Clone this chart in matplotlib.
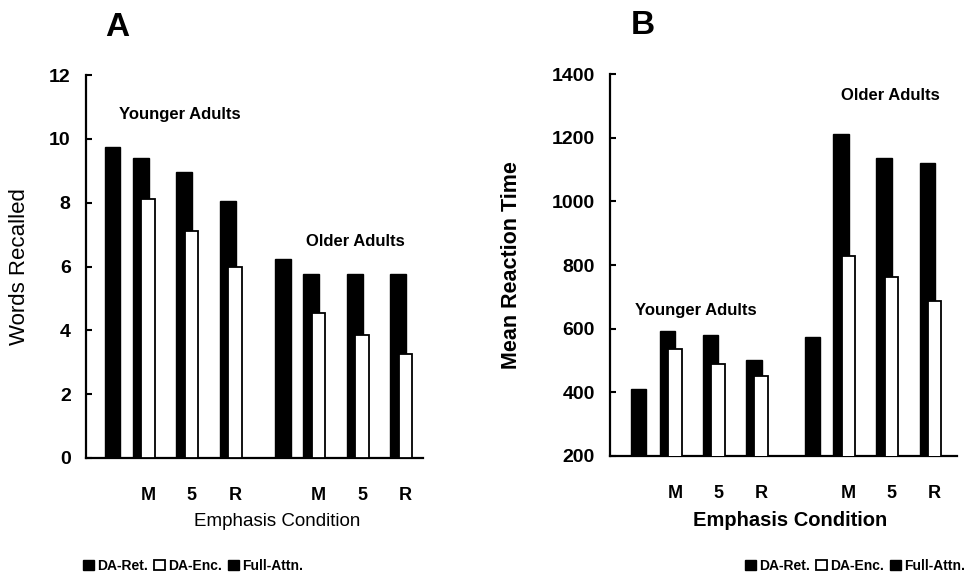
import numpy as np
import matplotlib
matplotlib.use('Agg')
import matplotlib.pyplot as plt

plt.rcParams['font.family'] = ['Liberation Sans', 'DejaVu Sans']

conditions = ['M', '5', 'R']
legend_names = ['DA-Ret.', 'DA-Enc.', 'Full-Attn.']

# panel A: words recalled
recall_full = [9.75, 6.25]            # younger, older
recall_ret_young = [9.4, 8.95, 8.05]
recall_enc_young = [8.1, 7.1, 6.0]
recall_ret_old = [5.75, 5.75, 5.75]
recall_enc_old = [4.55, 3.85, 3.25]

# panel B: mean reaction time
rt_full = [410, 575]
rt_ret_young = [593, 580, 502]
rt_enc_young = [536, 489, 452]
rt_ret_old = [1213, 1135, 1120]
rt_enc_old = [828, 761, 688]

fig = plt.figure(figsize=(9.68, 5.87), dpi=100)
W, H = 968, 587


def axes_px(l, r, b, t):
    return fig.add_axes([l / W, 1 - b / H, (r - l) / W, (b - t) / H])


def draw_panel(ax, full, ret_y, enc_y, ret_o, enc_o, bases, full_off, xmax):
    off = 0.17
    handles = None
    ticks = []
    for i, base in enumerate(bases):
        ret = [ret_y, ret_o][i]
        enc = [enc_y, enc_o][i]
        xs = base + np.arange(3)
        hf = ax.bar(base - full_off, full[i], width=0.35, color='black',
                    edgecolor='black', linewidth=1, zorder=2)
        hr = ax.bar(xs, ret, width=0.36, color='black', edgecolor='black',
                    linewidth=1, zorder=2)
        he = ax.bar(xs + off, enc, width=0.31, color='white', edgecolor='black',
                    linewidth=1.3, zorder=3)
        ticks.extend(xs + off)
        handles = [hr, he, hf]
    ax.set_xlim(0, xmax)
    ax.set_xticks(ticks)
    ax.set_xticklabels(conditions * 2, fontsize=13, fontweight='bold')
    ax.tick_params(axis='x', length=0, pad=21)
    ax.tick_params(axis='y', direction='in', length=4, width=1.5,
                   labelsize=14, pad=11)
    for s in ['top', 'right']:
        ax.spines[s].set_visible(False)
    for s in ['left', 'bottom']:
        ax.spines[s].set_linewidth(1.6)
    return handles


axA = axes_px(86, 423, 458, 75)
hA = draw_panel(axA, recall_full, recall_ret_young, recall_enc_young,
                recall_ret_old, recall_enc_old, [1.26, 5.18], 0.65, 7.75)
axA.set_ylim(0, 12)
axA.set_yticks(range(0, 13, 2))
for lab in axA.get_yticklabels():
    lab.set_fontweight('bold')
axA.set_ylabel('Words Recalled', fontsize=16)
axA.yaxis.set_label_coords(-0.166, 0.5)

axB = axes_px(610, 957, 456, 74)
hB = draw_panel(axB, rt_full, rt_ret_young, rt_enc_young,
                rt_ret_old, rt_enc_old, [1.34, 5.37], 0.67, 8.06)
axB.set_ylim(200, 1400)
axB.set_yticks(range(200, 1401, 200))
for lab in axB.get_yticklabels():
    lab.set_fontweight('bold')
axB.set_ylabel('Mean Reaction Time', fontsize=15.5, fontweight='bold')
axB.yaxis.set_label_coords(-0.254, 0.5)

# group labels, placed in figure pixels
for x, y, s in [(180, 115, 'Younger Adults'), (355, 241, 'Older Adults'),
                (696, 310, 'Younger Adults'), (890, 96, 'Older Adults')]:
    fig.text(x / W, 1 - y / H, s, fontsize=12, fontweight='bold',
             ha='center', va='center')

fig.text(117 / W, 1 - 28 / H, 'A', fontsize=24, fontweight='bold',
         ha='center', va='center')
fig.text(643 / W, 1 - 26 / H, 'B', fontsize=24, fontweight='bold',
         ha='center', va='center')

fig.text(277 / W, 1 - 521 / H, 'Emphasis Condition', fontsize=13.5,
         ha='center', va='center')
fig.text(790 / W, 1 - 521 / H, 'Emphasis Condition', fontsize=14.5,
         fontweight='bold', ha='center', va='center')

for h, cx in [(hA, 193), (hB, 855)]:
    fig.legend(h, legend_names, loc='center', bbox_to_anchor=(cx / W, 1 - 566 / H),
               ncol=3, frameon=False, handlelength=0.8, handleheight=0.8,
               handletextpad=0.2, columnspacing=0.45, borderpad=0,
               prop={'weight': 'bold', 'size': 10})

fig.savefig('out.png', dpi=100)
